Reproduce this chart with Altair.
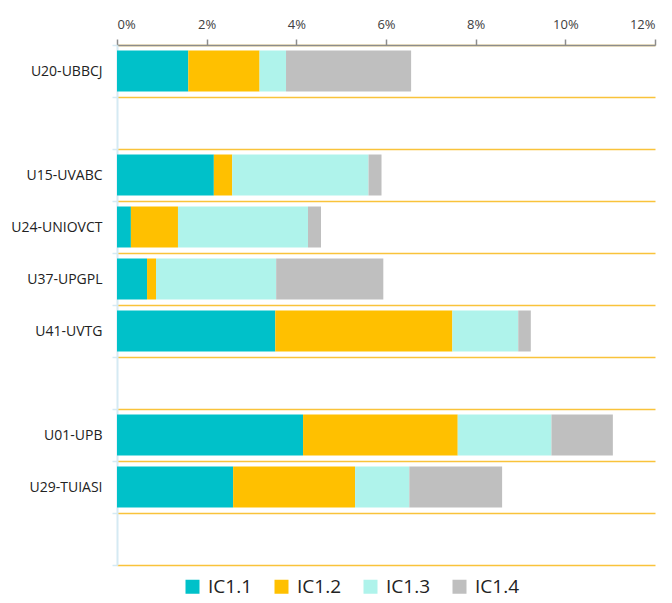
import altair as alt

# blank categories are the empty spacer rows (distinct whitespace strings)
categories = ["U20-UBBCJ", " ", "U15-UVABC", "U24-UNIOVCT", "U37-UPGPL",
              "U41-UVTG", "  ", "U01-UPB", "U29-TUIASI", "   "]
universities = ["U20-UBBCJ", "U15-UVABC", "U24-UNIOVCT", "U37-UPGPL",
                "U41-UVTG", "U01-UPB", "U29-TUIASI"]
series = ["IC1.1", "IC1.2", "IC1.3", "IC1.4"]
ic11 = [1.59, 2.16, 0.31, 0.67, 3.53, 4.15, 2.59]
ic12 = [1.59, 0.41, 1.05, 0.20, 3.95, 3.45, 2.72]
ic13 = [0.59, 3.04, 2.90, 2.68, 1.47, 2.09, 1.21]
ic14 = [2.79, 0.29, 0.29, 2.39, 0.28, 1.37, 2.07]
colors = ["#00c1c9", "#ffc000", "#aff3eb", "#bfbfbf"]
x_ticks = [0, 0.02, 0.04, 0.06, 0.08, 0.10, 0.12]

rows = []
for s_i, (name, vals) in enumerate(zip(series, [ic11, ic12, ic13, ic14])):
    for u, v in zip(universities, vals):
        rows.append({"univ": u, "series": name, "pct": v / 100.0, "ord": s_i})

FONT = "Open Sans"

chart = alt.Chart(alt.Data(values=rows)).mark_bar(height=41).encode(
    y=alt.Y("univ:N", sort=categories,
            scale=alt.Scale(domain=categories, paddingInner=0, paddingOuter=0),
            axis=alt.Axis(title=None, tickBand="extent", grid=True,
                          gridColor="#f9c33b", gridWidth=1.5,
                          domainColor="#d5eaf3", domainWidth=2,
                          tickColor="#d5eaf3", tickSize=5, tickWidth=1.5,
                          labelPadding=10, labelFont=FONT, labelFontSize=14,
                          labelColor="#222222")),
    x=alt.X("pct:Q", stack="zero",
            scale=alt.Scale(domain=[0, 0.12], nice=False),
            axis=alt.Axis(title=None, orient="top", values=x_ticks, format=".0%",
                          grid=False, domainColor="#8c8c8c", domainWidth=1.5,
                          tickColor="#8c8c8c", tickSize=6, tickWidth=1.5,
                          labelPadding=8, labelFont=FONT, labelFontSize=13,
                          labelColor="#404040")),
    color=alt.Color("series:N", sort=series,
                    scale=alt.Scale(domain=series, range=colors),
                    legend=alt.Legend(title=None, orient="none", direction="horizontal",
                                      legendX=66, legendY=532,
                                      symbolType="square", symbolSize=196,
                                      symbolStrokeWidth=0, labelFont=FONT,
                                      labelFontSize=19, labelColor="#222222",
                                      labelOffset=6, columnPadding=20)),
    order=alt.Order("ord:Q"),
).properties(
    width=538, height=520,
    padding={"left": 109, "top": 37, "right": 9, "bottom": 38},
    autosize=alt.AutoSizeParams(type="none"),
).configure_view(stroke=None)

chart.save("out.html", embed_options={"renderer": "svg", "actions": False})
